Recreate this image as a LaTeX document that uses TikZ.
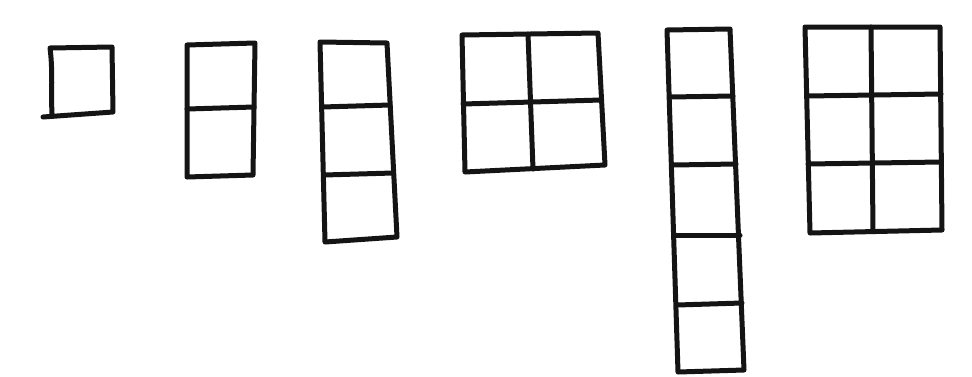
\documentclass[tikz,border=0pt]{standalone}
\begin{document}
\begin{tikzpicture}[x=1pt,y=-1pt,
  ink/.style={draw=black!92,line width=5pt,line cap=round,line join=round}]
\fill[white] (0,0) rectangle (972,376);
\useasboundingbox (0,0) rectangle (972,376);
% 1x1
\draw[ink] (43,117) -- (113,112) -- (112,47) -- (50,48) .. controls (53,70) and (51,95) .. (52,115);
% 1x2
\draw[ink] (187,45) -- (255,43) -- (253,175) -- (187,177) -- cycle;
\draw[ink] (187,109) -- (254,107);
% 1x3
\draw[ink] (320,42) -- (387,43) -- (397,237) -- (325,242) -- cycle;
\draw[ink] (322,107) -- (390,105);
\draw[ink] (324,175) -- (393,173);
% 2x2
\draw[ink] (462,35) -- (598,33) -- (605,165) -- (465,172) -- cycle;
\draw[ink] (528,34) -- (533,169);
\draw[ink] (463,104) -- (601,100);
% 1x5
\draw[ink] (667,30) -- (730,29) -- (744,370) -- (678,372) -- cycle;
\draw[ink] (670,97) -- (733,96);
\draw[ink] (673,165) -- (736,164);
\draw[ink] (675,235) -- (740,235);
\draw[ink] (677,305) -- (742,303);
% 2x3
\draw[ink] (805,27) -- (940,27) -- (942,230) -- (810,233) -- cycle;
\draw[ink] (871,27) -- (873,231);
\draw[ink] (807,96) -- (941,94);
\draw[ink] (808,164) -- (941,162);
\end{tikzpicture}
\end{document}
